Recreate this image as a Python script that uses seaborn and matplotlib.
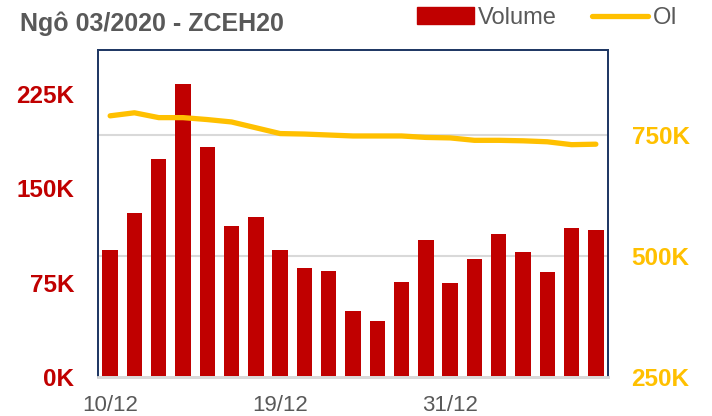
import matplotlib
matplotlib.use("Agg")
import matplotlib.pyplot as plt
import seaborn as sns
import pandas as pd
from matplotlib.patches import Patch
from matplotlib.lines import Line2D
from matplotlib.ticker import FuncFormatter

# trading days, Dec 2019 - Jan 2020
dates = ['10/12', '11/12', '12/12', '13/12', '16/12', '17/12', '18/12',
         '19/12', '20/12', '23/12', '24/12', '26/12', '27/12', '30/12',
         '31/12', '02/01', '03/01', '06/01', '07/01', '08/01', '09/01']
volume = [100700, 130400, 173600, 232700, 182900, 120100, 127200,
          100700, 86900, 84000, 52500, 44300, 75500, 108700,
          74700, 94100, 113700, 99400, 83500, 118700, 116600]
oi = [790700, 797000, 787000, 787000, 783000, 778000, 766000,
      754000, 753000, 751000, 749000, 749000, 749000, 746000,
      745000, 740000, 740000, 739000, 737000, 731000, 732000]
label_every = 7

left_ticks = [0, 75000, 150000, 225000]
right_ticks = [250000, 500000, 750000]
left_lim = (0, 260000)
right_lim = (250000, 927000)

RED = '#C00000'
GOLD = '#FFC000'
GREY = '#595959'
NAVY = '#1F3864'
GRID = '#D9D9D9'

df = pd.DataFrame({'Date': dates, 'Volume': volume, 'OI': oi})

sns.set_theme(style='white')
plt.rcParams['font.family'] = ['Liberation Sans', 'DejaVu Sans']

fig = plt.figure(figsize=(7.12, 4.16), dpi=100)
ax = fig.add_axes([98 / 712, 39 / 416, 510 / 712, 327 / 416])

sns.barplot(data=df, x='Date', y='Volume', color=RED, saturation=1,
            width=0.63, linewidth=0, ax=ax, zorder=2)
ax.set_ylim(*left_lim)
ax.set_xlim(-0.5, len(dates) - 0.5)

ax2 = ax.twinx()
ax2.plot(range(len(dates)), df['OI'], color=GOLD, linewidth=3.8,
         solid_capstyle='round', solid_joinstyle='round', zorder=3)
ax2.set_ylim(*right_lim)

# gridlines follow the right axis but sit behind the bars
for t in right_ticks[1:]:
    yl = left_lim[0] + (t - right_lim[0]) / (right_lim[1] - right_lim[0]) * (left_lim[1] - left_lim[0])
    ax.axhline(yl, color=GRID, linewidth=1.5, zorder=1)

kfmt = FuncFormatter(lambda v, p: f'{v / 1000:.0f}K')
ax.set_yticks(left_ticks)
ax.yaxis.set_major_formatter(kfmt)
ax2.set_yticks(right_ticks)
ax2.yaxis.set_major_formatter(kfmt)

ax.tick_params(axis='y', length=0, pad=17, labelsize=17.5, labelcolor=RED)
for lab in ax.get_yticklabels():
    lab.set_fontweight('bold')
ax2.tick_params(axis='y', length=0, pad=17, labelsize=17.5, labelcolor=GOLD)
for lab in ax2.get_yticklabels():
    lab.set_fontweight('bold')

pos = list(range(0, len(dates), label_every))
ax.set_xticks(pos)
ax.set_xticklabels([dates[i] for i in pos])
ax.tick_params(axis='x', length=0, pad=13, labelsize=16, labelcolor=GREY)
ax.set_xlabel('')
ax.set_ylabel('')

for a in (ax, ax2):
    for side in ('left', 'top', 'right'):
        a.spines[side].set_color(NAVY)
        a.spines[side].set_linewidth(1.3)
    a.spines['bottom'].set_color(GRID)
    a.spines['bottom'].set_linewidth(2)

fig.text(20 / 712, 1 - 31 / 416, 'Ngô 03/2020 - ZCEH20', fontsize=18,
         fontweight='bold', color=GREY, ha='left', va='baseline')

handles = [Patch(facecolor=RED, edgecolor=RED, label='Volume'),
           Line2D([0], [0], color=GOLD, linewidth=3.8, solid_capstyle='round', label='OI')]
fig.legend(handles=handles, loc='center left', bbox_to_anchor=(417 / 712, 1 - 18 / 416),
           ncol=2, frameon=False, fontsize=17, labelcolor=GREY, handlelength=2.4,
           handleheight=0.7, handletextpad=0.2, columnspacing=1.45,
           borderpad=0, borderaxespad=0)

fig.savefig('out.png', dpi=100)
